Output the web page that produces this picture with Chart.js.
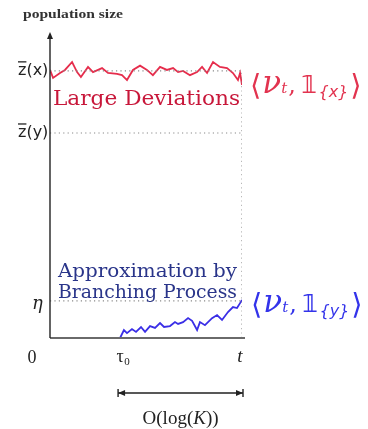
<!DOCTYPE html>
<html>
<head>
<meta charset="utf-8">
<script src="https://cdn.jsdelivr.net/npm/chart.js@4.4.0/dist/chart.umd.min.js"></script>
<style>html,body{margin:0;padding:0;background:#fff}</style>
</head>
<body>
<canvas id="graphCanvas" width="368" height="429"></canvas>
<script>
// niveaux (taille de population, échelle 0..1) et temps (0..t=1)
var levelZx = 0.873;
var levelZy = 0.670;
var levelEta = 0.121;
var tau0 = 0.365;
var tEnd = 1;

var yTickValues = [levelZx, levelZy, levelEta];
var yTickLabels = ['z(x)', 'z(y)', 'η'];
var xTickValues = [0, tau0, tEnd];
var xTickLabels = ['0', 'τ', 't'];

// trajectoire du trait résident x
var redTime = [0, 0.016, 0.052, 0.078, 0.115, 0.141, 0.161, 0.198, 0.224, 0.271, 0.302, 0.349, 0.375, 0.401, 0.432, 0.469,
  0.505, 0.536, 0.573, 0.609, 0.641, 0.667, 0.693, 0.729, 0.766, 0.792, 0.818, 0.849, 0.885, 0.922, 0.953, 0.979, 0.99, 1];
var redSize = [0.876, 0.850, 0.866, 0.876, 0.902, 0.869, 0.853, 0.886, 0.869, 0.882, 0.866, 0.863, 0.859, 0.843, 0.876, 0.890,
  0.876, 0.859, 0.886, 0.876, 0.882, 0.869, 0.873, 0.859, 0.869, 0.886, 0.866, 0.902, 0.886, 0.882, 0.866, 0.843, 0.866, 0.827];

// trajectoire du mutant y
var blueTime = [0.365, 0.385, 0.401, 0.427, 0.448, 0.474, 0.495, 0.521, 0.547, 0.573, 0.594, 0.625, 0.651, 0.667,
  0.693, 0.719, 0.740, 0.766, 0.781, 0.807, 0.844, 0.870, 0.896, 0.927, 0.953, 0.974, 0.990, 1];
var blueSize = [0, 0.026, 0.016, 0.029, 0.020, 0.036, 0.020, 0.039, 0.033, 0.049, 0.036, 0.039, 0.052, 0.046,
  0.052, 0.065, 0.056, 0.026, 0.052, 0.042, 0.065, 0.075, 0.059, 0.085, 0.101, 0.098, 0.114, 0.124];

function points(xs, ys) {
  var out = [];
  for (var i = 0; i < xs.length; i++) out.push({x: xs[i], y: ys[i]});
  return out;
}

function dotted(data) {
  return {data: data, borderColor: '#8a8a8a', borderWidth: 1.2, borderDash: [1.2, 3.2], pointRadius: 0, fill: false};
}

// suite de morceaux de texte (police, décalage vertical)
function drawPieces(ctx, x, y, pieces, color) {
  ctx.fillStyle = color;
  ctx.textAlign = 'left';
  ctx.textBaseline = 'alphabetic';
  pieces.forEach(function (p) {
    ctx.font = p.font;
    x += (p.dx || 0);
    ctx.fillText(p.text, x, y + (p.dy || 0));
    x += ctx.measureText(p.text).width;
  });
}

// texte étiré pour occuper une largeur donnée
function fitText(ctx, text, x, y, width) {
  var w = ctx.measureText(text).width;
  ctx.save();
  ctx.translate(x, y);
  ctx.scale(width / w, 1);
  ctx.fillText(text, 0, 0);
  ctx.restore();
}

function bracket(ctx, x, y, sub, color) {
  drawPieces(ctx, x, y, [
    {text: '⟨', font: '29px DejaVu Sans', dy: 2},
    {text: 'ν', font: 'italic 31px DejaVu Serif', dx: 1},
    {text: 't', font: 'italic 15px DejaVu Serif', dy: 0, dx: 0},
    {text: ',', font: '24px DejaVu Serif', dx: 1},
    {text: '𝟙', font: 'bold 24px DejaVu Sans', dx: 5},
    {text: sub, font: 'italic 16px DejaVu Sans', dy: 4, dx: 1},
    {text: '⟩', font: '29px DejaVu Sans', dy: 2, dx: 2}
  ], color);
}

var decorations = {
  id: 'decorations',
  afterDatasetsDraw: function (chart) {
    var ctx = chart.ctx;
    var xs = chart.scales.x, ys = chart.scales.y;
    var x0 = xs.getPixelForValue(0), x1 = xs.getPixelForValue(tEnd);
    var y0 = ys.getPixelForValue(0), yTop = chart.chartArea.top;
    ctx.save();

    // axes
    ctx.strokeStyle = '#6a6a6a';
    ctx.lineWidth = 1.8;
    ctx.beginPath();
    ctx.moveTo(x0, y0);
    ctx.lineTo(x1 + 3, y0);
    ctx.stroke();
    ctx.strokeStyle = '#222';
    ctx.lineWidth = 1.4;
    ctx.beginPath();
    ctx.moveTo(x0, y0);
    ctx.lineTo(x0, yTop + 4);
    ctx.stroke();
    ctx.fillStyle = '#222';
    ctx.beginPath();
    ctx.moveTo(x0, yTop);
    ctx.lineTo(x0 - 3, yTop + 7);
    ctx.lineTo(x0 + 3, yTop + 7);
    ctx.closePath();
    ctx.fill();

    // étiquettes de l'axe vertical
    ctx.fillStyle = '#222';
    ctx.textBaseline = 'middle';
    ctx.textAlign = 'left';
    for (var i = 0; i < yTickValues.length; i++) {
      var py = ys.getPixelForValue(yTickValues[i]);
      var lab = yTickLabels[i];
      if (lab === 'η') {
        ctx.font = 'italic 18px DejaVu Serif';
        ctx.fillText(lab, 32, py + 3);
      } else {
        ctx.font = '16px DejaVu Sans';
        ctx.fillText(lab, 18, py);
        var wz = ctx.measureText('z').width;
        ctx.lineWidth = 1.3;
        ctx.strokeStyle = '#222';
        ctx.beginPath();
        ctx.moveTo(18, py - 9);
        ctx.lineTo(18 + wz, py - 9);
        ctx.stroke();
      }
    }

    // étiquettes de l'axe horizontal
    ctx.textAlign = 'center';
    ctx.textBaseline = 'alphabetic';
    for (var j = 0; j < xTickValues.length; j++) {
      var px = xs.getPixelForValue(xTickValues[j]);
      var lab2 = xTickLabels[j];
      if (lab2 === '0') {
        ctx.font = '18px Liberation Serif';
        ctx.fillText(lab2, px - 18, y0 + 25);
      } else if (lab2 === 't') {
        ctx.font = 'italic 19px Liberation Serif';
        ctx.fillText(lab2, px - 2, y0 + 24);
      } else {
        ctx.font = '18px Liberation Serif';
        ctx.fillText(lab2, px, y0 + 24);
        ctx.font = '11px Liberation Serif';
        ctx.fillText('0', px + 7, y0 + 27);
      }
    }

    // intervalle O(log K)
    var pa = xs.getPixelForValue(tau0) - 2, pb = x1 + 1;
    var ya = y0 + 55;
    ctx.strokeStyle = '#222';
    ctx.fillStyle = '#222';
    ctx.lineWidth = 1.4;
    ctx.beginPath();
    ctx.moveTo(pa, ya); ctx.lineTo(pb, ya);
    ctx.moveTo(pa, ya - 4); ctx.lineTo(pa, ya + 4);
    ctx.moveTo(pb, ya - 4); ctx.lineTo(pb, ya + 4);
    ctx.stroke();
    ctx.beginPath();
    ctx.moveTo(pa, ya); ctx.lineTo(pa + 7, ya - 3); ctx.lineTo(pa + 7, ya + 3); ctx.closePath();
    ctx.moveTo(pb, ya); ctx.lineTo(pb - 7, ya - 3); ctx.lineTo(pb - 7, ya + 3); ctx.closePath();
    ctx.fill();
    ctx.font = '19px Liberation Serif';
    var s1 = 'O(log(', s2 = 'K', s3 = '))';
    var w1 = ctx.measureText(s1).width, w3 = ctx.measureText(s3).width;
    ctx.font = 'italic 19px Liberation Serif';
    var w2 = ctx.measureText(s2).width;
    var sx = (pa + pb) / 2 - (w1 + w2 + w3) / 2;
    drawPieces(ctx, sx, ya + 31, [
      {text: s1, font: '19px Liberation Serif'},
      {text: s2, font: 'italic 19px Liberation Serif'},
      {text: s3, font: '19px Liberation Serif'}
    ], '#222');

    // titre de l'axe
    ctx.fillStyle = '#333';
    ctx.font = 'bold 13px Liberation Serif';
    ctx.textAlign = 'left';
    ctx.textBaseline = 'alphabetic';
    fitText(ctx, 'population size', 23, 18, 100);

    // textes des régimes
    ctx.fillStyle = '#c8173a';
    ctx.font = '20px DejaVu Serif';
    fitText(ctx, 'Large Deviations', 53, 105, 187);
    ctx.fillStyle = '#2a358a';
    ctx.font = '19px DejaVu Serif';
    fitText(ctx, 'Approximation by', 58, 277, 179);
    fitText(ctx, 'Branching Process', 58, 298, 179);

    bracket(ctx, 250, 93, '{x}', '#e2334f');
    bracket(ctx, 251, 312, '{y}', '#3333ea');
    ctx.restore();
  }
};

var chartdata = {
  datasets: [
    dotted([{x: 0, y: levelZx}, {x: tEnd, y: levelZx}]),
    dotted([{x: 0, y: levelZy}, {x: tEnd, y: levelZy}]),
    dotted([{x: 0, y: levelEta}, {x: tEnd, y: levelEta}]),
    dotted([{x: tEnd, y: 0}, {x: tEnd, y: levelZx}]),
    {
      label: 'x',
      data: points(redTime, redSize),
      borderColor: '#e62d4c',
      borderWidth: 1.8,
      pointRadius: 0,
      tension: 0
    },
    {
      label: 'y',
      data: points(blueTime, blueSize),
      borderColor: '#3a2ee6',
      borderWidth: 1.8,
      pointRadius: 0,
      tension: 0
    }
  ]
};

var graph = new Chart(document.getElementById('graphCanvas'), {
  type: 'line',
  data: chartdata,
  plugins: [decorations],
  options: {
    responsive: false,
    animation: false,
    layout: {padding: {left: 50, right: 126, top: 32, bottom: 91}},
    plugins: {legend: {display: false}, tooltip: {enabled: false}},
    elements: {line: {clip: false}},
    scales: {
      x: {type: 'linear', min: 0, max: 1, display: false},
      y: {type: 'linear', min: 0, max: 1, display: false}
    }
  }
});
</script>
</body>
</html>
